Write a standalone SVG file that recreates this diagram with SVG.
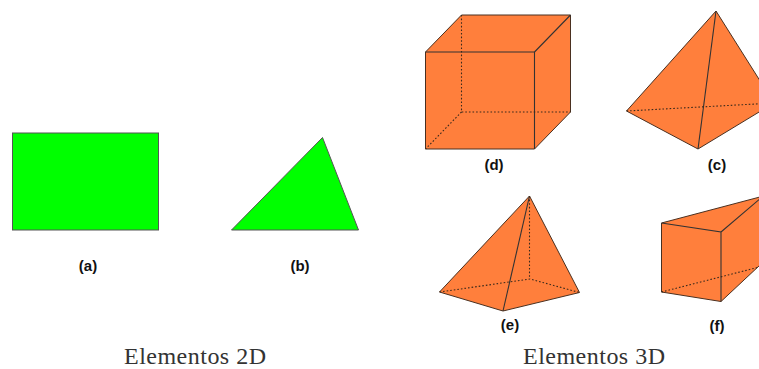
<svg xmlns="http://www.w3.org/2000/svg" width="759" height="369" viewBox="0 0 759 369">
<style>
.g{fill:#00ff00;stroke:#555;stroke-width:1}
.o{fill:#ff7f3c;stroke:#4a3020;stroke-width:1;stroke-linejoin:round}
.e{fill:none;stroke:#333;stroke-width:1.1}
.d{fill:none;stroke:#3a2a1c;stroke-width:1.1;stroke-dasharray:1.6 2}
.l{font:bold 15px "Liberation Sans",Arial,sans-serif;fill:#111;text-anchor:middle}
.c{font:24px "Liberation Serif","Times New Roman",serif;fill:#333;text-anchor:middle}
</style>
<rect width="759" height="369" fill="#fff"/>
<g id="node-a"><rect class="g" x="12.5" y="133" width="146" height="97"/><text class="l" x="88" y="271">(a)</text></g>
<g id="node-b"><polygon class="g" points="231.5,230 322.5,137.5 358.5,230"/><text class="l" x="300" y="271">(b)</text></g>
<g id="node-d">
<polygon class="o" points="425.5,52 461.5,15 570.5,15 570.5,112 534.5,149 425.5,149"/>
<path class="e" d="M425.5 52H534.5V149M534.5 52L570.5 15"/>
<path class="d" d="M461.5 15V112H570.5M461.5 112L425.5 149"/>
<text class="l" x="494" y="170">(d)</text></g>
<g id="node-c">
<polygon class="o" points="716,11 774,103 698,149 626.5,111"/>
<path class="e" d="M716 11L698 149"/>
<path class="d" d="M626.5 111L774 103"/>
<text class="l" x="717" y="170">(c)</text></g>
<g id="node-e">
<polygon class="o" points="529.5,196 579.5,292.5 503,311 439.5,292"/>
<path class="e" d="M529.5 196L503 311"/>
<path class="d" d="M529.5 196V279M439.5 292L530 279L579.5 292.5"/>
<text class="l" x="510" y="330">(e)</text></g>
<g id="node-f">
<polygon class="o" points="661.5,223 775,193 775,251 721,301.5 661.5,292"/>
<path class="e" d="M661.5 223L721 232V301.5M721 232L775 186"/>
<path class="d" d="M661.5 292L775 263"/>
<text class="l" x="717" y="331">(f)</text></g>
<text class="c" x="195" y="363.7" textLength="142" lengthAdjust="spacing">Elementos 2D</text>
<text class="c" x="594" y="363.7" textLength="142" lengthAdjust="spacing">Elementos 3D</text>
</svg>
